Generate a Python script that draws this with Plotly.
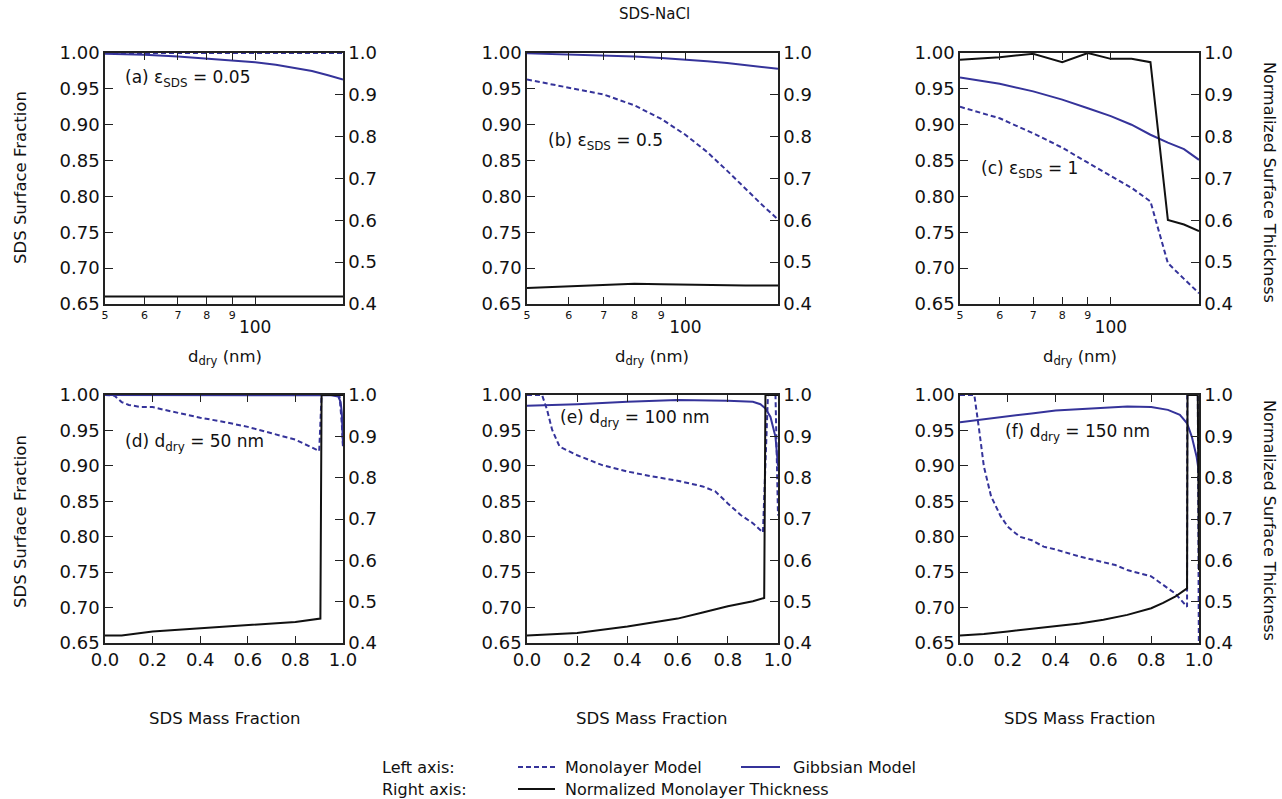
import plotly.graph_objects as go

W, H = 1282, 799
FONT = "DejaVu Sans"
BLUE = "#35339a"
BLACK = "#111111"
AXC = "#222222"

# ---------------- data ----------------
d_dry = [50, 60, 70, 80, 90, 100, 110, 120, 130, 140, 150]

a_mono = [1.0, 1.0, 1.0, 1.0, 1.0, 1.0, 1.0, 1.0, 1.0, 1.0, 1.0]
a_gibbs = [0.999, 0.9975, 0.995, 0.992, 0.9895, 0.987, 0.9835, 0.979, 0.975, 0.969, 0.963]
a_thick = [0.418, 0.418, 0.418, 0.418, 0.418, 0.418, 0.418, 0.418, 0.418, 0.418, 0.418]

b_mono = [0.963, 0.952, 0.942, 0.927, 0.908, 0.886, 0.862, 0.836, 0.811, 0.788, 0.768]
b_gibbs = [0.9995, 0.998, 0.9965, 0.995, 0.993, 0.991, 0.9885, 0.986, 0.983, 0.9805, 0.978]
b_thick = [0.438, 0.442, 0.446, 0.4485, 0.4475, 0.446, 0.445, 0.4445, 0.444, 0.444, 0.444]

c_mono = [0.925, 0.909, 0.888, 0.868, 0.847, 0.828, 0.812, 0.793, 0.707, 0.685, 0.665]
c_gibbs = [0.966, 0.957, 0.9465, 0.935, 0.923, 0.912, 0.900, 0.886, 0.875, 0.866, 0.851]
c_thick = [0.984, 0.990, 0.998, 0.978, 1.0, 0.986, 0.986, 0.978, 0.601, 0.590, 0.574]

d_mono_x = [0, 0.04, 0.07, 0.1, 0.15, 0.2, 0.25, 0.3, 0.4, 0.5, 0.6, 0.7, 0.8, 0.9, 0.91, 0.985, 0.995, 1.0]
d_mono_y = [1.0, 0.999, 0.99, 0.986, 0.983, 0.983, 0.979, 0.975, 0.968, 0.962, 0.955, 0.946, 0.937, 0.921, 1.0, 1.0, 0.96, 0.925]
d_gibbs_x = [0, 0.2, 0.4, 0.6, 0.8, 0.95, 0.98, 0.99, 0.995, 1.0]
d_gibbs_y = [0.9999, 0.9999, 0.9999, 0.9999, 0.9999, 0.9995, 0.998, 0.99, 0.975, 0.93]
d_thick_x = [0, 0.07, 0.2, 0.4, 0.6, 0.8, 0.905, 0.91, 1.0]
d_thick_y = [0.418, 0.418, 0.428, 0.436, 0.443, 0.451, 0.459, 1.0, 1.0]

e_mono_x = [0, 0.06, 0.08, 0.1, 0.13, 0.2, 0.3, 0.4, 0.5, 0.6, 0.7, 0.75, 0.8, 0.85, 0.9, 0.94, 0.96, 0.99, 1.0]
e_mono_y = [1.0, 1.0, 0.979, 0.951, 0.927, 0.915, 0.901, 0.892, 0.885, 0.879, 0.871, 0.864, 0.847, 0.831, 0.819, 0.806, 1.0, 1.0, 0.83]
e_gibbs_x = [0, 0.2, 0.4, 0.6, 0.8, 0.9, 0.93, 0.95, 0.97, 0.99, 1.0]
e_gibbs_y = [0.985, 0.987, 0.9905, 0.993, 0.992, 0.9905, 0.987, 0.981, 0.969, 0.941, 0.90]
e_thick_x = [0, 0.2, 0.4, 0.6, 0.7, 0.8, 0.9, 0.945, 0.95, 1.0]
e_thick_y = [0.418, 0.424, 0.440, 0.459, 0.474, 0.489, 0.501, 0.509, 1.0, 1.0]

f_mono_x = [0, 0.06, 0.08, 0.1, 0.13, 0.17, 0.2, 0.25, 0.3, 0.35, 0.4, 0.5, 0.6, 0.65, 0.7, 0.8, 0.9, 0.95, 0.951, 0.995, 1.0]
f_mono_y = [1.0, 1.0, 0.951, 0.899, 0.857, 0.829, 0.814, 0.800, 0.795, 0.786, 0.782, 0.772, 0.764, 0.760, 0.753, 0.744, 0.720, 0.701, 1.0, 1.0, 0.60]
f_gibbs_x = [0, 0.1, 0.2, 0.3, 0.4, 0.5, 0.6, 0.7, 0.8, 0.87, 0.92, 0.95, 0.97, 0.99, 1.0]
f_gibbs_y = [0.9615, 0.966, 0.970, 0.974, 0.978, 0.980, 0.982, 0.9836, 0.983, 0.979, 0.972, 0.960, 0.941, 0.913, 0.89]
f_thick_x = [0, 0.1, 0.2, 0.3, 0.4, 0.5, 0.6, 0.7, 0.8, 0.85, 0.9, 0.95, 0.952, 0.995, 1.0]
f_thick_y = [0.418, 0.422, 0.428, 0.434, 0.440, 0.447, 0.456, 0.468, 0.484, 0.497, 0.512, 0.532, 1.0, 1.0, 0.576]

log_tickvals = [50, 60, 70, 80, 90, 100]
log_ticktext = ["5", "6", "7", "8", "9", "<br><span style='font-size:17px'>100</span>"]
mass_tickvals = [0.0, 0.2, 0.4, 0.6, 0.8, 1.0]

panel_labels = ["(a) ε<sub>SDS</sub> = 0.05", "(b) ε<sub>SDS</sub> = 0.5", "(c) ε<sub>SDS</sub> = 1",
                "(d) d<sub>dry</sub> = 50 nm", "(e) d<sub>dry</sub> = 100 nm", "(f) d<sub>dry</sub> = 150 nm"]

# ---------------- layout geometry (pixels) ----------------
def px(x):
    return x / W

def py(y):
    return 1 - y / H

col_px = [(105, 343), (527, 778), (960, 1199)]
row_px = [(53, 304), (395, 643)]

fig = go.Figure()

panels = [
    (d_dry, a_mono, d_dry, a_gibbs, d_dry, a_thick),
    (d_dry, b_mono, d_dry, b_gibbs, d_dry, b_thick),
    (d_dry, c_mono, d_dry, c_gibbs, d_dry, c_thick),
    (d_mono_x, d_mono_y, d_gibbs_x, d_gibbs_y, d_thick_x, d_thick_y),
    (e_mono_x, e_mono_y, e_gibbs_x, e_gibbs_y, e_thick_x, e_thick_y),
    (f_mono_x, f_mono_y, f_gibbs_x, f_gibbs_y, f_thick_x, f_thick_y),
]

for i, (mx, my, gx, gy, tx, ty) in enumerate(panels):
    n = i + 1
    xa = "x" if n == 1 else f"x{n}"
    ya = "y" if n == 1 else f"y{n}"
    yr = f"y{n + 6}"
    fig.add_trace(go.Scatter(x=mx, y=my, xaxis=xa, yaxis=ya, mode="lines",
                             line=dict(color=BLUE, width=2, dash="5px,3px"), showlegend=False))
    fig.add_trace(go.Scatter(x=gx, y=gy, xaxis=xa, yaxis=ya, mode="lines",
                             line=dict(color=BLUE, width=2), showlegend=False))
    fig.add_trace(go.Scatter(x=tx, y=ty, xaxis=xa, yaxis=yr, mode="lines",
                             line=dict(color=BLACK, width=2), showlegend=False))

    r, c = divmod(i, 3)
    xd = [px(col_px[c][0]), px(col_px[c][1])]
    yd = [py(row_px[r][1]), py(row_px[r][0])]
    xkey = "xaxis" if n == 1 else f"xaxis{n}"
    ykey = "yaxis" if n == 1 else f"yaxis{n}"
    yrkey = f"yaxis{n + 6}"
    common_x = dict(domain=xd, anchor=ya, showline=True, linecolor=AXC, linewidth=1.5,
                    mirror="ticks", ticks="inside", tickcolor=AXC, ticklen=7, tickwidth=1.3,
                    showgrid=False, zeroline=False, automargin=False)
    if r == 0:
        fig.layout[xkey] = dict(common_x, type="log", range=[1.69897, 2.176091],
                                tickmode="array", tickvals=log_tickvals, ticktext=log_ticktext,
                                tickfont=dict(family=FONT, size=11, color="#111"))
    else:
        fig.layout[xkey] = dict(common_x, range=[0, 1], tickmode="array", tickvals=mass_tickvals,
                                tickformat=".1f", tickfont=dict(family=FONT, size=18, color="#111"))
    fig.layout[ykey] = dict(domain=yd, anchor=xa, range=[0.65, 1.0], dtick=0.05, tick0=0.65,
                            tickformat=".2f", showline=True, linecolor=AXC, linewidth=1.5,
                            ticks="inside", tickcolor=AXC, ticklen=8, tickwidth=1.3,
                            showgrid=False, zeroline=False, automargin=False,
                            tickfont=dict(family=FONT, size=18, color="#111"))
    fig.layout[yrkey] = dict(overlaying=ya, anchor=xa, side="right", range=[0.4, 1.0], dtick=0.1,
                             tick0=0.4, tickformat=".1f", showline=True, linecolor=AXC, linewidth=1.5,
                             ticks="inside", tickcolor=AXC, ticklen=8, tickwidth=1.3,
                             showgrid=False, zeroline=False, automargin=False,
                             tickfont=dict(family=FONT, size=18, color="#111"))

annotations = []

def ann(text, x, y, size, xanchor="center", textangle=0):
    annotations.append(dict(text=text, x=px(x), y=py(y), xref="paper", yref="paper",
                            xanchor=xanchor, yanchor="middle", showarrow=False,
                            textangle=textangle, font=dict(family=FONT, size=size, color="#111")))

label_pos = [(123, 78), (546, 142), (979, 170), (123, 443), (558, 418), (1003, 432)]
for t, (x, y) in zip(panel_labels, label_pos):
    ann(t, x, y, 17, xanchor="left")

centers = [225, 652, 1080]
for cx in centers:
    ann("d<sub>dry</sub> (nm)", cx, 357, 16.5)
    ann("SDS Mass Fraction", cx, 718, 16.5)

ann("SDS Surface Fraction", 20, 178, 16.5, textangle=-90)
ann("SDS Surface Fraction", 20, 522, 16.5, textangle=-90)
ann("Normalized Surface Thickness", 1270, 182, 16, textangle=90)
ann("Normalized Surface Thickness", 1270, 520, 16, textangle=90)

ann("SDS-NaCl", 654, 14, 15)

# legend
ann("Left axis:", 380, 767, 16, xanchor="left")
ann("Right axis:", 380, 789, 16, xanchor="left")
ann("Monolayer Model", 563, 767, 16, xanchor="left")
ann("Gibbsian Model", 791, 767, 16, xanchor="left")
ann("Normalized Monolayer Thickness", 563, 789, 16, xanchor="left")

shapes = [
    dict(type="line", xref="paper", yref="paper", x0=px(518), x1=px(555), y0=py(767), y1=py(767),
         line=dict(color=BLUE, width=2, dash="5px,3px")),
    dict(type="line", xref="paper", yref="paper", x0=px(741), x1=px(780), y0=py(767), y1=py(767),
         line=dict(color=BLUE, width=2)),
    dict(type="line", xref="paper", yref="paper", x0=px(518), x1=px(555), y0=py(789), y1=py(789),
         line=dict(color=BLACK, width=2)),
]

fig.update_layout(width=W, height=H, margin=dict(l=0, r=0, t=0, b=0, autoexpand=False),
                  paper_bgcolor="white", plot_bgcolor="white",
                  annotations=annotations, shapes=shapes, showlegend=False,
                  font=dict(family=FONT, color="#111"))

fig.write_html("out.html", config={"displayModeBar": False},
               post_script="document.body.style.margin='0px';document.body.style.overflow='hidden';")
